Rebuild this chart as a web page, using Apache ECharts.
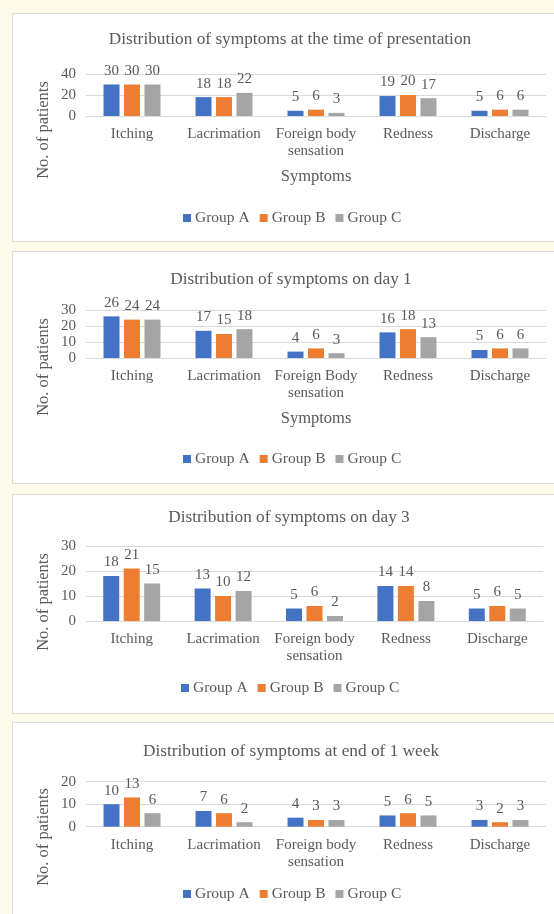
<!DOCTYPE html>
<html>
<head>
<meta charset="utf-8">
<script src="https://cdn.jsdelivr.net/npm/echarts@6/dist/echarts.min.js"></script>
<style>
  html, body { margin: 0; padding: 0; background: #fffbea; }
  #chart { width: 554px; height: 914px; }
</style>
</head>
<body>
<div id="chart"></div>
<script>
// Symptom categories (day 1 chart spells "Body" with a capital B)
const symptoms = ['Itching', 'Lacrimation', 'Foreign body\nsensation', 'Redness', 'Discharge'];
const symptomsDay1 = ['Itching', 'Lacrimation', 'Foreign Body\nsensation', 'Redness', 'Discharge'];
const groups = ['Group A', 'Group B', 'Group C'];

// At the time of presentation
const presentationA = [30, 18, 5, 19, 5];
const presentationB = [30, 18, 6, 20, 6];
const presentationC = [30, 22, 3, 17, 6];

// Day 1
const day1A = [26, 17, 4, 16, 5];
const day1B = [24, 15, 6, 18, 6];
const day1C = [24, 18, 3, 13, 6];

// Day 3
const day3A = [18, 13, 5, 14, 5];
const day3B = [21, 10, 6, 14, 6];
const day3C = [15, 12, 2, 8, 5];

// End of 1 week
const week1A = [10, 7, 4, 5, 3];
const week1B = [13, 6, 3, 6, 2];
const week1C = [6, 2, 3, 5, 3];

// Value axis settings per chart
const axisMax = [40, 30, 30, 20];
const axisStep = [20, 10, 10, 10];

const titles = [
  'Distribution of symptoms at the time of presentation',
  'Distribution of symptoms on day 1',
  'Distribution of symptoms on day 3',
  'Distribution of symptoms at end of 1 week'
];

const FONT = '"Liberation Serif", "Times New Roman", serif';
const TEXT = '#595959';
const LINE = '#d9d9d9';
const COLORS = ['#4472C4', '#ED7D31', '#A5A5A5'];

// Layout of the four stacked panels
const panels = [
  { box: [12, 13, 228], grid: [86, 74, 460, 42], titleY: 39.5, titleX: 290, legendY: 218, legendX: 183, yNameY: 130, xName: 'Symptoms', cats: symptoms, data: [presentationA, presentationB, presentationC] },
  { box: [12, 251, 232], grid: [86, 310, 460, 48], titleY: 279.5, titleX: 291, legendY: 459, legendX: 183, yNameY: 367, xName: 'Symptoms', cats: symptomsDay1, data: [day1A, day1B, day1C] },
  { box: [12, 494, 219], grid: [86, 546, 457, 75], titleY: 517, titleX: 289, legendY: 688, legendX: 181, yNameY: 602, xName: '', cats: symptoms, data: [day3A, day3B, day3C] },
  { box: [12, 722, 230], grid: [86, 781.7, 460, 45], titleY: 751, titleX: 291, legendY: 894, legendX: 183, yNameY: 837, xName: '', cats: symptoms, data: [week1A, week1B, week1C] }
];

const option = {
  backgroundColor: '#fffbea',
  animation: false,
  title: [],
  legend: [],
  grid: [],
  xAxis: [],
  yAxis: [],
  series: [],
  graphic: []
};

panels.forEach((p, i) => {
  // white card with a light border
  option.graphic.push({
    type: 'rect', z: -10, silent: true,
    shape: { x: p.box[0] + 0.5, y: p.box[1] + 0.5, width: 600, height: p.box[2] },
    style: { fill: '#ffffff', stroke: LINE, lineWidth: 1 }
  });
  // value-axis title
  option.graphic.push({
    type: 'text', x: 44, y: p.yNameY, rotation: Math.PI / 2,
    style: { text: 'No. of patients', fill: TEXT, font: '16.5px ' + FONT, align: 'center', verticalAlign: 'middle' }
  });

  option.title.push({
    text: titles[i], left: p.titleX, top: p.titleY - 10, textAlign: 'center', padding: 0,
    textStyle: { color: TEXT, fontFamily: FONT, fontSize: 17.3, fontWeight: 'normal', lineHeight: 20 }
  });

  option.legend.push({
    data: groups, left: p.legendX, top: p.legendY - 9, padding: 0,
    itemWidth: 8, itemHeight: 8, itemGap: 10, icon: 'rect',
    textStyle: { color: TEXT, fontFamily: FONT, fontSize: 15.5, lineHeight: 18, padding: [0, 0, 0, -1] }
  });

  option.grid.push({ left: p.grid[0], top: p.grid[1], width: p.grid[2], height: p.grid[3], containLabel: false });

  option.xAxis.push({
    type: 'category', gridIndex: i, data: p.cats,
    name: p.xName, nameLocation: 'middle', nameGap: 52,
    nameTextStyle: { color: TEXT, fontFamily: FONT, fontSize: 16.5 },
    axisLine: { lineStyle: { color: LINE } },
    axisTick: { show: false },
    axisLabel: { color: TEXT, fontFamily: FONT, fontSize: 15, lineHeight: 17, margin: 10, interval: 0 }
  });

  option.yAxis.push({
    type: 'value', gridIndex: i, min: 0, max: axisMax[i], interval: axisStep[i],
    axisLine: { show: false }, axisTick: { show: false },
    splitLine: { lineStyle: { color: LINE } },
    axisLabel: { color: TEXT, fontFamily: FONT, fontSize: 15, margin: 10 }
  });

  p.data.forEach((vals, g) => {
    option.series.push({
      type: 'bar', name: groups[g], xAxisIndex: i, yAxisIndex: i, data: vals,
      barWidth: 16, barGap: '28%',
      itemStyle: { color: COLORS[g] },
      label: { show: true, position: 'top', distance: 6, color: TEXT, fontFamily: FONT, fontSize: 15 }
    });
  });
});

const chart = echarts.init(document.getElementById('chart'), null, { renderer: 'canvas' });
chart.setOption(option);
</script>
</body>
</html>
